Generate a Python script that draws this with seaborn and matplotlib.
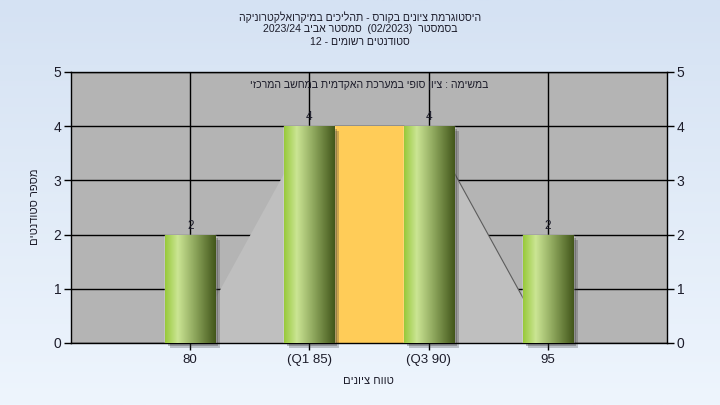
import re
import numpy as np
import pandas as pd
import matplotlib
matplotlib.use('Agg')
import matplotlib.pyplot as plt
import matplotlib.colors as mcolors
import matplotlib.transforms as mtransforms
from matplotlib.patches import Rectangle
import seaborn as sns

# chart data
grade_labels = ['80', '(Q1 85)', '(Q3 90)', '95']
student_counts = [2, 4, 4, 2]
curve_values = [0, 4, 4, 0]
q1_label = '(Q1 85)'
q3_label = '(Q3 90)'

title_lines = [
    'היסטוגרמת ציונים בקורס - תהליכים במיקרואלקטרוניקה',
    'בסמסטר  (02/2023)  סמסטר אביב 2023/24',
    'סטודנטים רשומים - 12',
]
subtitle = 'במשימה : ציון סופי במערכת האקדמית במחשב המרכזי'
x_title = 'טווח ציונים'
y_title = 'מספר סטודנטים'

MIRROR = str.maketrans('()[]', ')(][')


def visual(text):
    # matplotlib has no bidi support, so put right-to-left text in visual order
    parts = re.split(r'([0-9A-Za-z][0-9A-Za-z/.]*)', text)
    out = [p if i % 2 else p[::-1].translate(MIRROR) for i, p in enumerate(parts)]
    return ''.join(reversed(out))


sns.set_style('white')
plt.rcParams['font.family'] = ['Liberation Sans', 'DejaVu Sans']
text_color = '#1c1c2a'

fig = plt.figure(figsize=(7.2, 4.05), dpi=100)

# light blue gradient background
bg = fig.add_axes([0, 0, 1, 1], zorder=-10)
bg_cmap = mcolors.LinearSegmentedColormap.from_list('bg', ['#d5e2f3', '#eef5fd'])
bg.imshow(np.linspace(0, 1, 256).reshape(-1, 1), aspect='auto', cmap=bg_cmap,
          extent=[0, 1, 0, 1], origin='upper')
bg.axis('off')

ax = fig.add_axes([71 / 720, 1 - 343 / 405, 596 / 720, 271 / 405])
ax.set_facecolor('#b4b4b4')

df = pd.DataFrame({'grade': grade_labels, 'students': student_counts})
pos = np.arange(len(grade_labels))

# distribution shape behind the bars
ax.fill_between(pos, 0, curve_values, color='#bfbfbf', lw=0, zorder=1)
ax.plot(pos[2:], curve_values[2:], color='#5c5c5c', lw=0.8, zorder=1.5)

# interquartile band
iq1, iq3 = grade_labels.index(q1_label), grade_labels.index(q3_label)
ax.fill_between([iq1, iq3], 0, [student_counts[iq1], student_counts[iq3]],
                color='#ffcc58', lw=0, zorder=1.6)

sns.barplot(data=df, x='grade', y='students', width=0.42, color='#8aa84a',
            saturation=1, ax=ax, zorder=3)

bar_cmap = mcolors.LinearSegmentedColormap.from_list(
    'bar', [(0, '#98c93a'), (0.25, '#cbe594'), (0.6, '#8ba45a'), (1, '#42561a')])
hgrad = np.linspace(0, 1, 256).reshape(1, -1)
for patch in list(ax.patches):
    x0, y0, w, h = patch.get_x(), patch.get_y(), patch.get_width(), patch.get_height()
    for off, alpha in [(5, 0.25), (3, 0.3)]:
        shift = mtransforms.ScaledTranslation(off / 100, -off / 100, fig.dpi_scale_trans)
        shadow = Rectangle((x0, y0), w, h, transform=ax.transData + shift,
                           facecolor='#303030', alpha=alpha, lw=0, zorder=2.5,
                           clip_on=False)
        ax.add_patch(shadow)
    im = ax.imshow(hgrad, cmap=bar_cmap, extent=[x0, x0 + w, y0, y0 + h],
                   aspect='auto', zorder=3.5)
    im.set_clip_path(patch)

ax.bar_label(ax.containers[0], fontsize=8.5, padding=2, color=text_color)

ax.set_xlim(-1, 4)
ax.set_ylim(0, 5)
ax.set_yticks(range(6))
ax.set_xticks(pos, grade_labels)
ax.set_xlabel('')
ax.set_ylabel('')
ax.set_axisbelow(True)
ax.grid(True, color='black', lw=1)
for s in ax.spines.values():
    s.set_color('black')
    s.set_linewidth(1)
ax.tick_params(axis='both', direction='out', length=5, width=1, colors='black',
               labelcolor=text_color, labelsize=10, pad=2)
ax.tick_params(axis='y', right=True, labelright=True, left=True, labelleft=True)
ax.tick_params(axis='x', bottom=True, labelsize=9.5, pad=3)

ax.text(0.5, 0.952, visual(subtitle), transform=ax.transAxes, ha='center',
        va='center', fontsize=7.6, color=text_color, zorder=5)

for i, line in enumerate(title_lines):
    fig.text(0.5, 1 - (17 + 12.5 * i) / 405, visual(line), ha='center',
             va='center', fontsize=7.6, color=text_color)

fig.text(368 / 720, 1 - 381 / 405, visual(x_title), ha='center', va='center',
         fontsize=8, color=text_color)
fig.text(35 / 720, 1 - 207 / 405, visual(y_title), ha='center', va='center',
         rotation=90, fontsize=8, color=text_color)

fig.savefig('out.png', dpi=100)
